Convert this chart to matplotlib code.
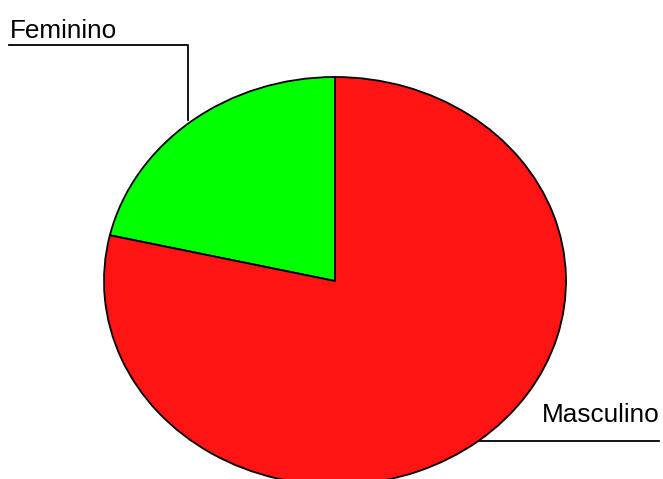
import matplotlib.pyplot as plt

# Data
labels = ['Feminino', 'Masculino']
values = [21.4, 78.6]
colors = ['#00ff00', '#ff1414']

W, H = 663, 479
fig = plt.figure(figsize=(W / 100, H / 100), dpi=100)

# pie drawn into an axes stretched to an ellipse
cx, cy, rx, ry = 335, 281, 231, 204
ax = fig.add_axes([(cx - rx) / W, (H - cy - ry) / H, 2 * rx / W, 2 * ry / H])
ax.pie(values, colors=colors, startangle=90, counterclock=True,
       wedgeprops=dict(edgecolor='black', linewidth=1.3))
ax.set_aspect('auto')
ax.set_xlim(-1, 1)
ax.set_ylim(-1, 1)
ax.axis('off')

# overlay in pixel coords for labels and leader lines
ov = fig.add_axes([0, 0, 1, 1])
ov.set_xlim(0, W)
ov.set_ylim(H, 0)
ov.axis('off')

font = ['Liberation Sans', 'DejaVu Sans']
ov.text(10, 38, labels[0], fontsize=18.8, family=font, va='baseline', ha='left')
ov.plot([9, 188, 188], [45, 45, 120], color='black', lw=1.3)
ov.text(542, 422, labels[1], fontsize=18.8, family=font, va='baseline', ha='left')
ov.plot([480, 659], [441, 441], color='black', lw=1.3)

fig.savefig('out.png', dpi=100)
